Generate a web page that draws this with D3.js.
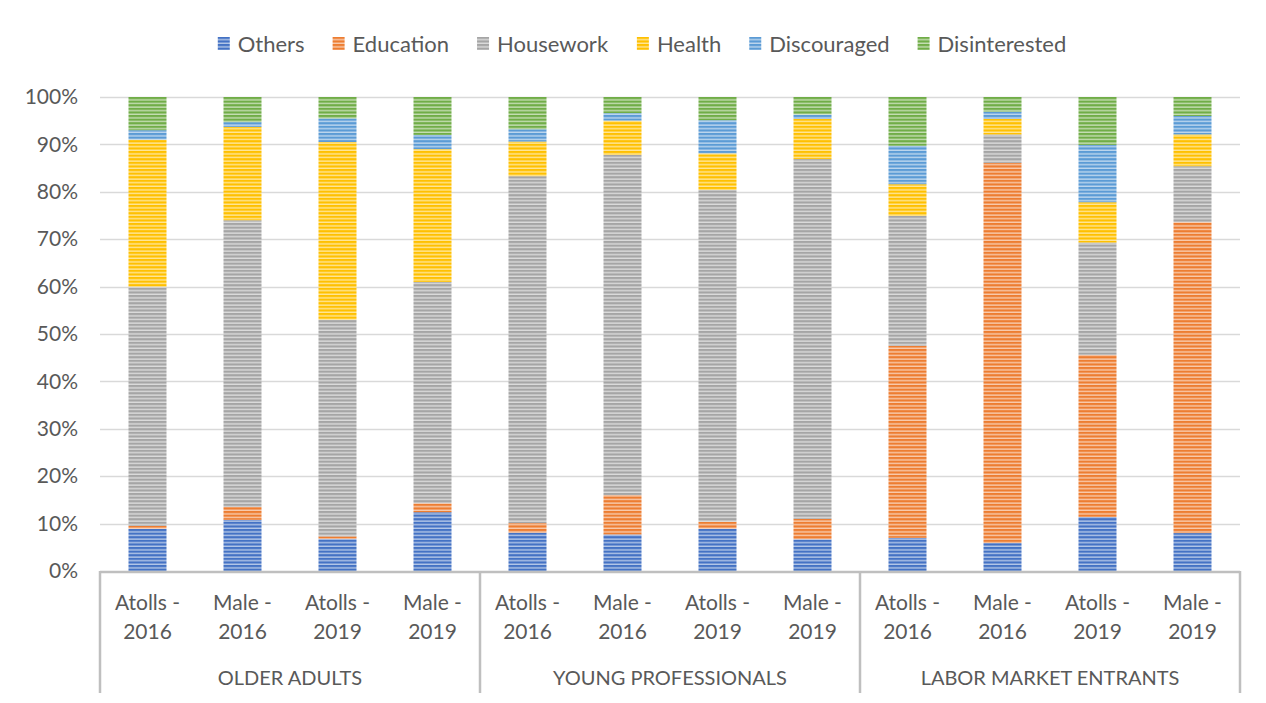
<!DOCTYPE html>
<html>
<head>
<meta charset="utf-8">
<script src="https://cdn.jsdelivr.net/npm/d3@7"></script>
<style>
  body { margin: 0; background: #fff; }
  svg { display: block; font-family: Lato, "Open Sans", sans-serif; }
</style>
</head>
<body>
<div id="chart"></div>
<script>
// groups and sub-categories along the x axis
var groups = ["OLDER ADULTS", "YOUNG PROFESSIONALS", "LABOR MARKET ENTRANTS"];
var subcats = ["Atolls - 2016", "Male - 2016", "Atolls - 2019", "Male - 2019"];
var seriesNames = ["Others", "Education", "Housework", "Health", "Discouraged", "Disinterested"];
var colors = ["#4472C4", "#ED7D31", "#A5A5A5", "#FFC000", "#5B9BD5", "#70AD47"];
var yTicks = [0, 0.1, 0.2, 0.3, 0.4, 0.5, 0.6, 0.7, 0.8, 0.9, 1.0];

// percentages, 12 bars in order (group x sub-category)
var others        = [8.9, 10.8, 6.8, 12.4,   8.1, 7.7, 8.9, 6.7,    7.0, 5.9, 11.4, 8.0];
var education     = [0.6, 2.7, 0.5, 1.9,     2.0, 8.3, 1.5, 4.3,    40.5, 80.2, 34.2, 65.6];
var housework     = [50.5, 60.5, 45.7, 46.7, 73.2, 71.8, 70.0, 75.9, 27.4, 6.0, 23.7, 11.8];
var health        = [31.0, 19.7, 37.5, 28.0, 7.3, 7.2, 7.7, 8.5,    6.7, 3.3, 8.5, 6.7];
var discouraged   = [2.0, 1.0, 5.0, 3.0,     2.6, 1.6, 7.0, 0.9,    8.1, 1.5, 12.1, 3.9];
var disinterested = [7.0, 5.3, 4.5, 8.0,     6.8, 3.4, 4.9, 3.7,    10.3, 3.1, 10.1, 4.0];

var W = 1266, H = 703;
var margin = {top: 97, right: 26, bottom: 132, left: 100};
var w = W - margin.left - margin.right;
var h = H - margin.top - margin.bottom;
var fs = "21px";

var rows = [];
groups.forEach(function(g, gi) {
    subcats.forEach(function(s, si) {
        var i = gi * subcats.length + si;
        rows.push({
            key: g + "|" + s, group: g, sub: s,
            Others: others[i], Education: education[i], Housework: housework[i],
            Health: health[i], Discouraged: discouraged[i], Disinterested: disinterested[i]
        });
    });
});

var stack = d3.stack().keys(seriesNames).offset(d3.stackOffsetExpand);
var stacked = stack(rows);

var x = d3.scaleBand()
    .domain(rows.map(function(d) { return d.key; }))
    .range([0, w])
    .paddingInner(0.6)
    .paddingOuter(0.3);

var y = d3.scaleLinear().domain([0, 1]).range([h, 0]);

var svg = d3.select("#chart").append("svg")
    .attr("width", W)
    .attr("height", H);

// striped fills like the excel pattern
var defs = svg.append("defs");
colors.forEach(function(c, i) {
    var p = defs.append("pattern")
        .attr("id", "pat" + i)
        .attr("patternUnits", "userSpaceOnUse")
        .attr("width", 8)
        .attr("height", 3.6);
    p.append("rect").attr("width", 8).attr("height", 3.6).attr("fill", c);
    p.append("rect").attr("y", 2.2).attr("width", 8).attr("height", 1.4)
        .attr("fill", "#fff").attr("opacity", 0.6);
});

var g = svg.append("g")
    .attr("transform", "translate(" + margin.left + "," + margin.top + ")");

// gridlines
g.append("g")
    .selectAll("line")
    .data(yTicks.slice(1))
    .enter()
    .append("line")
    .attr("x1", 0)
    .attr("x2", w)
    .attr("y1", function(d) { return Math.round(y(d)) + 0.5; })
    .attr("y2", function(d) { return Math.round(y(d)) + 0.5; })
    .attr("stroke", "#d9d9d9")
    .attr("stroke-width", 1.5);

// y axis labels
var yAxis = d3.axisLeft(y)
    .tickValues(yTicks)
    .tickFormat(d3.format(".0%"))
    .tickSize(0)
    .tickPadding(22);
var ya = g.append("g").call(yAxis);
ya.select(".domain").remove();
ya.selectAll("text")
    .attr("font-size", fs)
    .attr("fill", "#595959")
    .attr("font-family", "Lato, sans-serif");

// bars
g.selectAll(".series")
    .data(stacked)
    .enter()
    .append("g")
    .attr("class", "series")
    .attr("fill", function(d, i) { return "url(#pat" + i + ")"; })
    .selectAll("rect")
    .data(function(d) { return d; })
    .enter()
    .append("rect")
    .attr("x", function(d) { return x(d.data.key); })
    .attr("width", x.bandwidth())
    .attr("y", function(d) { return y(d[1]); })
    .attr("height", function(d) { return y(d[0]) - y(d[1]); });

// x axis line
g.append("line")
    .attr("x1", 0).attr("x2", w)
    .attr("y1", h + 1).attr("y2", h + 1)
    .attr("stroke", "#bfbfbf")
    .attr("stroke-width", 2.5);

// group separators
var groupW = w / groups.length;
d3.range(groups.length + 1).forEach(function(i) {
    g.append("line")
        .attr("x1", i * groupW).attr("x2", i * groupW)
        .attr("y1", h).attr("y2", h + 122)
        .attr("stroke", "#bfbfbf")
        .attr("stroke-width", 2.5);
});

// sub-category labels, two lines each
var lab = g.append("g").selectAll("text")
    .data(rows)
    .enter()
    .append("text")
    .attr("text-anchor", "middle")
    .attr("font-size", fs)
    .attr("fill", "#595959")
    .attr("transform", function(d) {
        return "translate(" + (x(d.key) + x.bandwidth() / 2) + "," + (h + 39) + ")";
    });
lab.append("tspan")
    .attr("x", 0)
    .text(function(d) { return d.sub.split(" - ")[0] + " -"; });
lab.append("tspan")
    .attr("x", 0)
    .attr("dy", 29)
    .text(function(d) { return d.sub.split(" - ")[1]; });

// group labels
g.append("g").selectAll("text")
    .data(groups)
    .enter()
    .append("text")
    .attr("x", function(d, i) { return (i + 0.5) * groupW; })
    .attr("y", h + 114)
    .attr("text-anchor", "middle")
    .attr("font-size", "20px")
    .attr("fill", "#595959")
    .text(function(d) { return d; });

// legend
var legend = svg.append("g").attr("transform", "translate(0,44)");
var items = legend.selectAll("g")
    .data(seriesNames)
    .enter()
    .append("g");
items.append("rect")
    .attr("y", -7)
    .attr("width", 12)
    .attr("height", 13)
    .attr("fill", function(d, i) { return "url(#pat" + i + ")"; });
items.append("text")
    .attr("x", 20)
    .attr("y", 7.5)
    .attr("font-size", "22px")
    .attr("fill", "#595959")
    .text(function(d) { return d; });

var pos = 0, gap = 28, offs = [];
items.each(function() {
    offs.push(pos);
    pos += this.getBBox().width + gap;
});
var start = 642 - (pos - gap) / 2;
items.attr("transform", function(d, i) { return "translate(" + (start + offs[i]) + ",0)"; });
</script>
</body>
</html>
